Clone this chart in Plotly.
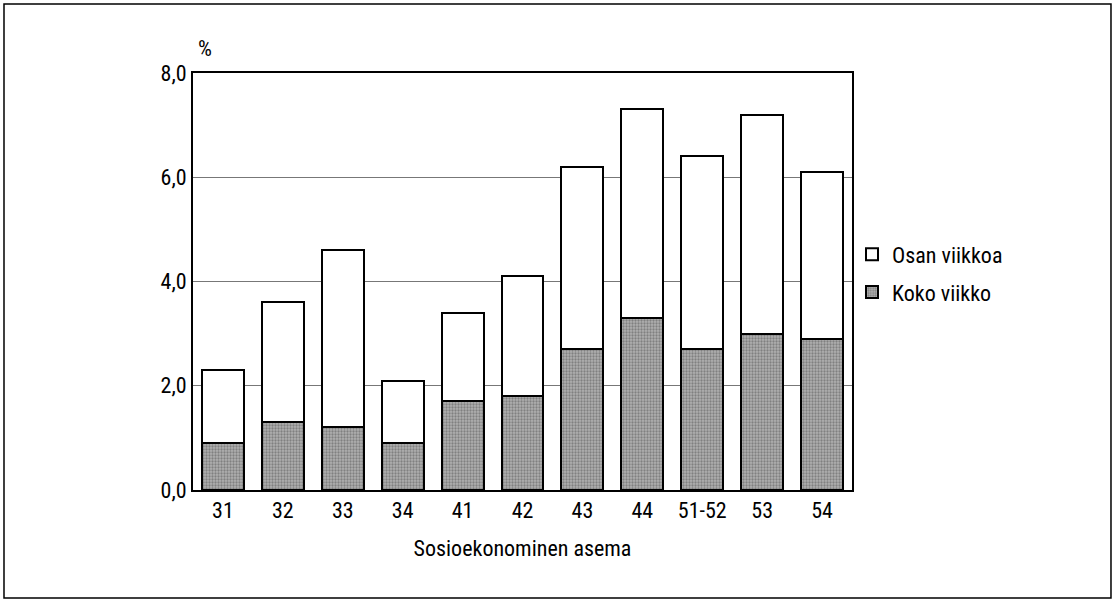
import plotly.graph_objects as go

categories = ["31", "32", "33", "34", "41", "42", "43", "44", "51-52", "53", "54"]
koko_viikko = [0.9, 1.3, 1.2, 0.9, 1.7, 1.8, 2.7, 3.3, 2.7, 3.0, 2.9]
osan_viikkoa = [1.4, 2.3, 3.4, 1.2, 1.7, 2.3, 3.5, 4.0, 3.7, 4.2, 3.2]
y_ticks = [0, 2, 4, 6, 8]

FONT = "Liberation Sans Narrow, Roboto Condensed, Arial Narrow, Roboto, sans-serif"
FS = 22

fig = go.Figure()
fig.add_trace(go.Bar(
    x=categories, y=koko_viikko, name="Koko viikko", legendgroup="k", legendrank=2,
    marker=dict(color="#9a9a9a",
                pattern=dict(shape=".", fgcolor="#505050", bgcolor="#b0b0b0", size=3, solidity=0.45),
                line=dict(color="black", width=2)),
))
fig.add_trace(go.Bar(
    x=categories, y=osan_viikkoa, name="Osan viikkoa", legendgroup="o", legendrank=1,
    marker=dict(color="white", line=dict(color="black", width=2)),
))

fig.update_layout(
    barmode="stack",
    bargap=0.3,
    width=1116, height=604,
    margin=dict(l=193, r=264, t=73, b=114),
    paper_bgcolor="white", plot_bgcolor="white",
    separators=",.",
    font=dict(family=FONT, size=FS, color="black"),
    showlegend=True,
    legend=dict(x=1.0, y=0.615, xanchor="left", yanchor="top", traceorder="grouped",
                font=dict(family=FONT, size=FS), bgcolor="rgba(0,0,0,0)",
                itemwidth=30, tracegroupgap=6),
    xaxis=dict(showline=True, linecolor="black", linewidth=2, mirror=True,
               ticks="", tickfont=dict(family=FONT, size=FS),
               title=dict(text="Sosioekonominen asema", font=dict(family=FONT, size=FS), standoff=18)),
    yaxis=dict(range=[0, 8], tickvals=y_ticks, tickformat=".1f",
               showline=True, linecolor="black", linewidth=2, mirror=True,
               showgrid=True, gridcolor="#777777", gridwidth=1,
               ticks="", tickfont=dict(family=FONT, size=FS), zeroline=False),
    annotations=[dict(text="%", xref="paper", yref="paper", x=0.005, y=1.025,
                      xanchor="left", yanchor="bottom", showarrow=False,
                      font=dict(family=FONT, size=FS))],
    shapes=[dict(type="rect", xref="paper", yref="paper",
                 x0=-0.2868, x1=1.393, y0=-0.259, y1=1.1655,
                 line=dict(color="black", width=1.5), layer="below")],
)

fig.write_html("out.html", config={"displayModeBar": False},
               post_script="document.body.style.margin='0px';")
